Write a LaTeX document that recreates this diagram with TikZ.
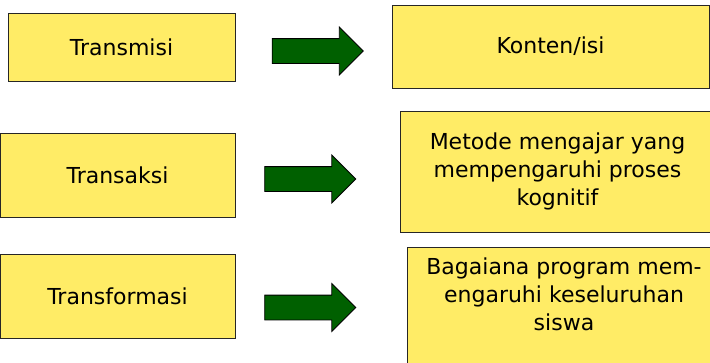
\documentclass[tikz,border=0pt]{standalone}
\usepackage{fontspec}
\setmainfont{DejaVu Sans}
\usetikzlibrary{shapes.arrows}

\definecolor{kuning}{RGB}{255,236,102}
\definecolor{hijau}{RGB}{0,96,0}

\tikzset{
  kotak/.style={draw=black!85, fill=kuning, line width=1pt, inner sep=0pt,
    align=center, font=\fontsize{22}{28}\selectfont},
  teks/.style={align=center, inner sep=0pt, font=\fontsize{22}{28}\selectfont},
  panah/.style={single arrow, draw=black, fill=hijau, line width=0.8pt,
    minimum height=91pt, inner xsep=0pt, inner ysep=12pt,
    single arrow head extend=11.5pt, single arrow tip angle=90,
    single arrow head indent=0pt}
}

\begin{document}
\begin{tikzpicture}[x=1pt,y=-1pt]
  \useasboundingbox (0,0) rectangle (710,362);

  % kolom kiri
  \node[kotak, minimum width=227pt, minimum height=68pt] (transmisi) at (121.5,47) {Transmisi};
  \node[kotak, minimum width=235pt, minimum height=84pt] (transaksi) at (117.5,175) {Transaksi};
  \node[kotak, minimum width=235pt, minimum height=84pt] (transformasi) at (117.5,296) {Transformasi};

  % panah
  \node[panah] (p1) at (311.5,51) {};
  \node[panah] (p2) at (304,179) {};
  \node[panah] (p3) at (304,307.5) {};

  % kolom kanan
  \node[kotak, minimum width=317pt, minimum height=83pt] (konten) at (550.5,46.5) {Konten/isi};
  \node[kotak, minimum width=315pt, minimum height=121pt] (metode) at (557.5,171.5)
    {Metode mengajar yang\\mempengaruhi proses\\kognitif};
  \node[kotak, minimum width=315pt, minimum height=125pt] (program) at (564.5,309.5) {};
  \node[teks] (programteks) at (564,294)
    {Bagaiana program mem-\\engaruhi keseluruhan\\siswa};
\end{tikzpicture}
\end{document}
